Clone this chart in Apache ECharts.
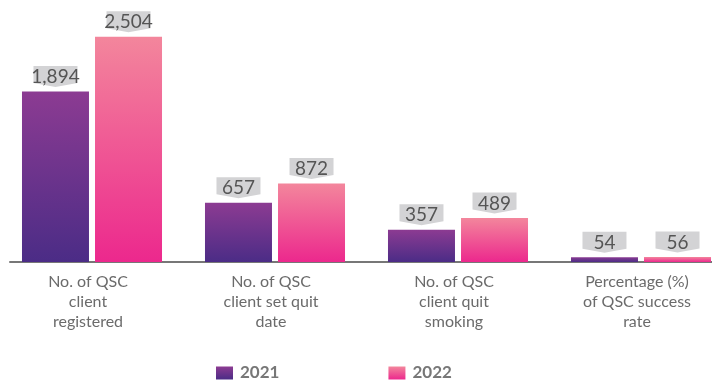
<!DOCTYPE html>
<html>
<head>
<meta charset="utf-8">
<script src="https://cdn.jsdelivr.net/npm/echarts@6/dist/echarts.min.js"></script>
<style>
  html, body { margin: 0; padding: 0; background: #ffffff; }
  #chart { width: 712px; height: 380px; }
</style>
</head>
<body>
<div id="chart"></div>
<script>
const categories = [
  'No. of QSC\nclient\nregistered',
  'No. of QSC\nclient set quit\ndate',
  'No. of QSC\nclient quit\nsmoking',
  'Percentage (%)\nof QSC success\nrate'
];
const seriesNames = ['2021', '2022'];
const values2021 = [1894, 657, 357, 54];
const values2022 = [2504, 872, 489, 56];

const FONT = 'Lato, "Noto Sans", sans-serif';
const calloutPath = 'path://M0,0L44,0L44,17L22,21L0,17Z';

function grad(top, bottom) {
  return new echarts.graphic.LinearGradient(0, 0, 0, 1, [
    { offset: 0, color: top },
    { offset: 1, color: bottom }
  ]);
}
const colors = [grad('#8c3b92', '#4b2c86'), grad('#f3869c', '#ec288d')];
const seriesValues = [values2021, values2022];

const chart = echarts.init(document.getElementById('chart'), null, { renderer: 'canvas' });

const barCommon = {
  barWidth: 67,
  barGap: '9%',
  xAxisIndex: 0,
  yAxisIndex: 0
};

const series = [];
seriesValues.forEach(function (vals, i) {
  series.push(Object.assign({
    type: 'pictorialBar',
    name: 'callout' + i,
    data: vals,
    symbol: calloutPath,
    symbolSize: [44, 21],
    symbolPosition: 'end',
    symbolOffset: [0, -25.5],
    itemStyle: { color: '#d3d3d5' },
    z: 2,
    silent: true
  }, barCommon));
});
seriesValues.forEach(function (vals, i) {
  series.push(Object.assign({
    type: 'bar',
    name: seriesNames[i],
    data: vals,
    itemStyle: { color: colors[i] },
    z: 3,
    label: {
      show: true,
      position: 'top',
      distance: 5,
      fontFamily: FONT,
      fontSize: 19,
      lineHeight: 19,
      color: '#555555',
      formatter: function (p) { return Number(p.value).toLocaleString('en-US'); }
    }
  }, barCommon));
});

chart.setOption({
  animation: false,
  grid: [
    { left: 0.5, width: 732, top: 10, bottom: 118, outerBoundsMode: 'none', containLabel: false },
    { left: 10, right: 0, top: 10, bottom: 118, outerBoundsMode: 'none', containLabel: false }
  ],
  legend: {
    data: seriesNames,
    left: 211,
    top: 358,
    itemWidth: 17,
    itemHeight: 13,
    itemGap: 109,
    icon: 'rect',
    textStyle: {
      fontFamily: FONT,
      fontSize: 17,
      lineHeight: 20,
      fontWeight: 'bold',
      color: '#777777',
      padding: [0, 0, 0, 2]
    }
  },
  xAxis: [
    {
      type: 'category',
      data: categories,
      gridIndex: 0,
      axisLine: { show: false },
      axisTick: { show: false },
      axisLabel: {
        interval: 0,
        margin: 10,
        fontFamily: FONT,
        fontSize: 16,
        lineHeight: 20,
        color: '#6b6b6b',
        padding: [0, 8, 0, 0]
      }
    },
    {
      type: 'value',
      gridIndex: 1,
      min: 0,
      max: 1,
      axisLine: { show: true, onZero: false, lineStyle: { color: '#777777', width: 2 } },
      axisTick: { show: false },
      axisLabel: { show: false },
      splitLine: { show: false }
    }
  ],
  yAxis: [
    { type: 'value', gridIndex: 0, min: 0, max: 2800, show: false },
    { type: 'value', gridIndex: 1, min: 0, max: 1, show: false }
  ],
  series: series
});
</script>
</body>
</html>
